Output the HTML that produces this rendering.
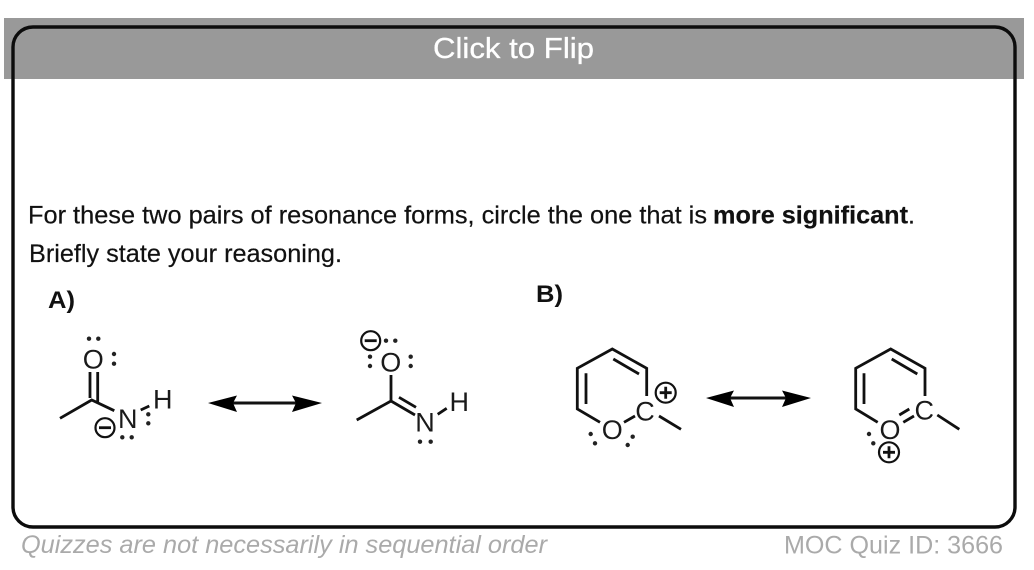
<!DOCTYPE html>
<html>
<head>
<meta charset="utf-8">
<style>
html,body{margin:0;padding:0;background:#fff;width:1034px;height:570px;overflow:hidden}
svg{display:block;font-family:"Liberation Sans",sans-serif}
.b{fill:none;stroke:#111;stroke-width:2.8;stroke-linecap:butt;stroke-linejoin:miter}
.l{font-size:27px;fill:#1a1a1a;text-anchor:middle}
.d{fill:#222}
.c{fill:none;stroke:#111;stroke-width:2.2}
.t{font-size:25px;fill:#111;stroke:#111;stroke-width:.2}
</style>
</head>
<body>
<svg width="1034" height="570" viewBox="0 0 1034 570" xmlns="http://www.w3.org/2000/svg">
<rect width="1034" height="570" fill="#fff"/>
<rect x="4" y="18" width="1020" height="61" fill="#999"/>
<rect x="13" y="27" width="1002" height="500" rx="20" ry="20" fill="none" stroke="#0c0c0c" stroke-width="3.4"/>
<text x="433" y="58" font-size="29" fill="#fff" stroke="#fff" stroke-width=".3" textLength="161" lengthAdjust="spacingAndGlyphs">Click to Flip</text>

<text class="t" x="28" y="223.5" textLength="679" lengthAdjust="spacingAndGlyphs">For these two pairs of resonance forms, circle the one that is</text>
<text class="t" x="713" y="223.5" font-weight="bold" textLength="195" lengthAdjust="spacingAndGlyphs">more significant</text>
<text class="t" x="908" y="223.5">.</text>
<text class="t" x="29" y="262" textLength="313" lengthAdjust="spacingAndGlyphs">Briefly state your reasoning.</text>
<text x="48" y="308" font-size="24" font-weight="bold" fill="#111" textLength="27" lengthAdjust="spacingAndGlyphs">A)</text>
<text x="536" y="302" font-size="24" font-weight="bold" fill="#111" textLength="27" lengthAdjust="spacingAndGlyphs">B)</text>

<!-- A left -->
<path class="b" d="M60 418.3L91.7 400L114.3 410.7M90 372V398M97.7 372V402M140.7 410L149.3 406"/>
<text class="l" x="93.3" y="368.5">O</text>
<text class="l" x="127.7" y="428">N</text>
<text class="l" x="162.7" y="408.5">H</text>
<g class="d">
<circle cx="89" cy="338.7" r="2.2"/><circle cx="98.3" cy="338.7" r="2.2"/>
<circle cx="114" cy="354" r="2.2"/><circle cx="114" cy="363.7" r="2.2"/>
<circle cx="148.3" cy="414.3" r="2.2"/><circle cx="148.3" cy="423.3" r="2.2"/>
<circle cx="122.3" cy="437.3" r="2.2"/><circle cx="131.7" cy="437.3" r="2.2"/>
</g>
<circle class="c" cx="105" cy="427.7" r="9.5"/><path class="b" d="M99 427.7H111"/>

<!-- Arrow A -->
<path d="M230 403H300" stroke="#111" stroke-width="3" fill="none"/>
<path d="M208 403L237 395.5L233 403L237 412Z" fill="#000"/>
<path d="M322 403L292 395.5L296 403L292 412Z" fill="#000"/>

<!-- A right -->
<path class="b" d="M391 375V401M356.7 420L391 401L415 415M399 397.3L416 407.3M437.7 414.3L446.7 408.3"/>
<text class="l" x="390.7" y="371.5">O</text>
<text class="l" x="425" y="431.5">N</text>
<text class="l" x="459.3" y="411">H</text>
<g class="d">
<circle cx="386" cy="340.7" r="2.2"/><circle cx="395.3" cy="340.7" r="2.2"/>
<circle cx="370" cy="356.7" r="2.2"/><circle cx="370" cy="366" r="2.2"/>
<circle cx="410.7" cy="356.7" r="2.2"/><circle cx="410.7" cy="366" r="2.2"/>
<circle cx="420" cy="441.7" r="2.2"/><circle cx="430.7" cy="441.7" r="2.2"/>
</g>
<circle class="c" cx="370.7" cy="340.7" r="9.5"/><path class="b" d="M364.7 340.7H376.7"/>

<!-- Arrow B -->
<path d="M728 398H790" stroke="#111" stroke-width="3" fill="none"/>
<path d="M706 398L734 390.5L730 398L734 407Z" fill="#000"/>
<path d="M811 398L782 390.5L786 398L782 407Z" fill="#000"/>

<!-- B left -->
<path class="b" d="M646.7 396V368.3L612.3 349L577.3 368.3V409L600 422.3M624 422.3L635 416M613.3 359L639 374M586 373.3V404M659 416L681 429.3"/>
<text class="l" x="612.3" y="439">O</text>
<text class="l" x="645" y="420.5">C</text>
<g class="d">
<circle cx="590.7" cy="434" r="2.2"/><circle cx="595" cy="443.3" r="2.2"/>
<circle cx="632.7" cy="436.7" r="2.2"/><circle cx="627.7" cy="445" r="2.2"/>
</g>
<circle class="c" cx="665.7" cy="392.7" r="10"/><path class="b" d="M659.7 392.7H671.7M665.7 386.7V398.7"/>

<!-- B right -->
<path class="b" d="M925 396V368.3L890.7 349L855.7 368.3V409L877.7 422.3M899.3 415L909.3 409M903.3 422.3L914 416M891.7 359L917.3 374M864 373.3V404M937.3 415L959.3 429.3"/>
<text class="l" x="890" y="439">O</text>
<text class="l" x="924.3" y="419.5">C</text>
<g class="d">
<circle cx="869" cy="434" r="2.2"/><circle cx="873.3" cy="443.3" r="2.2"/>
</g>
<circle class="c" cx="889" cy="452.3" r="10"/><path class="b" d="M883 452.3H895M889 446.3V458.3"/>

<text x="21" y="553" font-size="25" font-style="italic" fill="#aaa" textLength="526" lengthAdjust="spacingAndGlyphs">Quizzes are not necessarily in sequential order</text>
<text x="784" y="553.5" font-size="25" fill="#aaa" textLength="219" lengthAdjust="spacingAndGlyphs">MOC Quiz ID: 3666</text>
</svg>
</body>
</html>
